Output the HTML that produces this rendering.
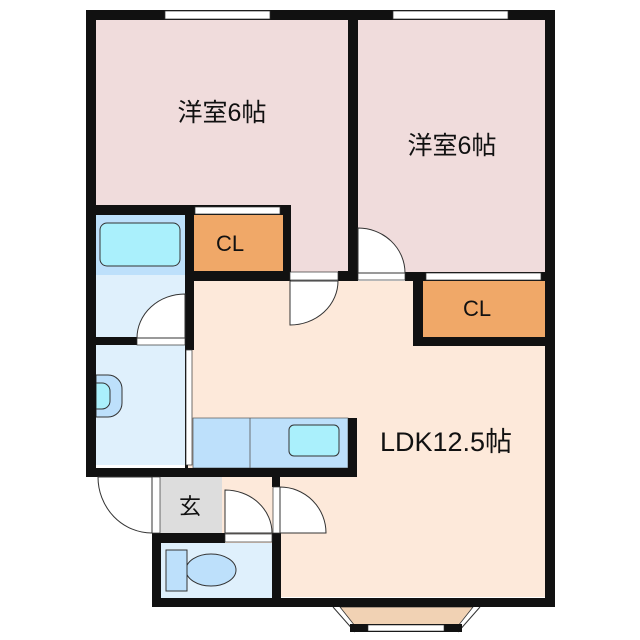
<!DOCTYPE html>
<html><head><meta charset="utf-8"><style>
body{margin:0;width:640px;height:640px;background:#fff;overflow:hidden}
svg{display:block}
text{font-family:"Liberation Sans","Noto Sans CJK JP",sans-serif;fill:#111}
</style></head><body>
<svg width="640" height="640" viewBox="0 0 640 640">
<rect x="96" y="20" width="252" height="252" fill="#f0dcdc"/>
<rect x="358" y="20" width="187" height="254" fill="#f0dcdc"/>
<rect x="185" y="281" width="360" height="316" fill="#fde9da"/>
<rect x="222" y="477" width="58" height="58" fill="#fde9da"/>
<rect x="96" y="215" width="89" height="250" fill="#dff0fc"/>
<rect x="96" y="215" width="89" height="60" fill="#bde0fb"/>
<rect x="100" y="223" width="80" height="43" rx="7" fill="#aaf0fc" stroke="#333" stroke-width="1"/>
<rect x="194" y="215" width="89" height="56" fill="#f0a868"/>
<rect x="423" y="281" width="122" height="56" fill="#f0a868"/>
<rect x="193" y="418" width="155" height="50" fill="#bde0fb" stroke="#555" stroke-width="0.7"/>
<line x1="250" y1="418" x2="250" y2="468" stroke="#555" stroke-width="0.8"/>
<rect x="289" y="425" width="50" height="31" rx="5" fill="#aaf0fc" stroke="#333"/>
<path d="M96 375 h12 a14 14 0 0 1 14 14 v14 a14 14 0 0 1 -14 14 h-12 z" fill="#bde0fb" stroke="#333"/>
<path d="M96 383 h6 a8 8 0 0 1 8 8 v10 a8 8 0 0 1 -8 8 h-6 z" fill="#aaf0fc" stroke="#333"/>
<rect x="160" y="477" width="62" height="56" fill="#ddd"/>
<rect x="161" y="543" width="111" height="55" fill="#dff0fc"/>
<ellipse cx="211" cy="570" rx="25" ry="16" fill="#bde0fb" stroke="#333"/>
<rect x="166" y="550" width="21" height="41" fill="#bde0fb" stroke="#333"/>
<path d="M340 607 L473 607 L458 626 L355 626 Z" fill="#f1d2b4" stroke="#333" stroke-width="0.8"/>
<path d="M333 607 L355 632 M480 607 L458 632" stroke="#333" stroke-width="1"/>
<rect x="350" y="624" width="112" height="8" fill="#111"/>
<rect x="368" y="625" width="76" height="6" fill="#fff" stroke="#333" stroke-width="0.6"/>
<g fill="#111">
<rect x="86" y="10" width="469" height="10"/>
<rect x="86" y="10" width="10" height="467"/>
<rect x="545" y="10" width="10" height="597"/>
<rect x="348" y="10" width="10" height="271"/>
<rect x="86" y="205" width="205" height="10"/>
<rect x="185" y="205" width="9" height="145"/>
<rect x="283" y="205" width="8" height="76"/>
<rect x="185" y="271" width="105" height="10"/>
<rect x="338" y="271" width="20" height="10"/>
<rect x="405" y="272" width="140" height="9"/>
<rect x="413" y="272" width="10" height="74"/>
<rect x="413" y="337" width="142" height="9"/>
<rect x="86" y="337" width="51" height="8"/>
<rect x="185" y="350" width="3" height="118"/>
<rect x="86" y="468" width="271" height="9"/>
<rect x="348" y="418" width="9" height="59"/>
<rect x="272" y="477" width="8" height="10"/>
<rect x="152" y="533" width="73" height="10"/>
<rect x="152" y="533" width="9" height="74"/>
<rect x="272" y="533" width="9" height="74"/>
<rect x="152" y="598" width="403" height="9"/>
</g>
<g fill="#fff" stroke="#333" stroke-width="0.7">
<rect x="165" y="11" width="105" height="8"/>
<rect x="393" y="11" width="115" height="8"/>
<rect x="195" y="207" width="85" height="7"/>
<rect x="426" y="273" width="115" height="7"/>
<rect x="290" y="272" width="48" height="8"/>
<rect x="358" y="273" width="47" height="7"/>
<rect x="137" y="338" width="48" height="7"/>
<rect x="186" y="350" width="6" height="115"/>
<rect x="152" y="477" width="8" height="56"/>
<rect x="225" y="534" width="47" height="8"/>
<rect x="273" y="487" width="7" height="46"/>
</g>
<g fill="#fff" stroke="#333" stroke-width="1">
<path d="M290 281 V325 A48 44 0 0 0 338 281 Z"/>
<path d="M358 273 V228 A47 45 0 0 1 405 273 Z"/>
<path d="M137 338 A48 44 0 0 1 185 294 V338 Z"/>
<path d="M98 477 A54 56 0 0 0 152 533 V477 Z" />
<path d="M225 533 V490 A47 43 0 0 1 272 533 Z"/>
<path d="M280 533 V487 A46 46 0 0 1 326 533 Z"/>
</g>
<text x="222" y="121" font-size="25" text-anchor="middle">洋室6帖</text>
<text x="452" y="154" font-size="25" text-anchor="middle">洋室6帖</text>
<text x="230" y="251" font-size="22" text-anchor="middle">CL</text>
<text x="477" y="316" font-size="22" text-anchor="middle">CL</text>
<text x="446" y="451" font-size="27" text-anchor="middle">LDK12.5帖</text>
<text x="190" y="514" font-size="22" text-anchor="middle">玄</text>
</svg>
</body></html>
